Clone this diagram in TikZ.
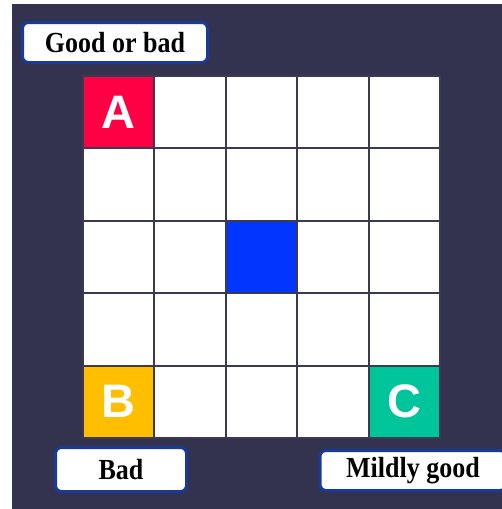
\documentclass[tikz,border=0pt]{standalone}
\usepackage{fontspec}
\setmainfont{Liberation Serif}
\newfontfamily\letterfont{Liberation Sans}
\definecolor{bgnavy}{HTML}{33334F}
\definecolor{gridline}{HTML}{3A3A52}
\definecolor{cellred}{HTML}{FF0044}
\definecolor{cellyellow}{HTML}{FFBF00}
\definecolor{cellgreen}{HTML}{00C49A}
\definecolor{cellblue}{HTML}{0036FF}
\definecolor{boxblue}{HTML}{1A3A9A}
\newcommand{\tallertext}[1]{\scalebox{1}[1.12]{#1}}
\tikzset{
  cell/.style={draw=gridline, line width=2pt, fill=white, minimum width=71.4pt, minimum height=72.4pt, inner sep=0pt, outer sep=0pt},
  letter/.style={text=white, font=\letterfont\fontsize{47}{47}\selectfont\bfseries},
  labelbox/.style={draw=boxblue, line width=3pt, fill=white, rounded corners=6pt, inner sep=0pt, font=\fontsize{26}{26}\selectfont\bfseries, text=black}
}
\begin{document}
\begin{tikzpicture}[x=1pt,y=-1pt]
\useasboundingbox (0,0) rectangle (502,509);
\fill[white] (0,0) rectangle (502,509);
\fill[bgnavy] (12,4) rectangle (502,509);
\foreach \i in {0,...,4}{
  \foreach \j in {0,...,4}{
    \node[cell] (c\i\j) at ({83+71.4*(\i+0.5)},{76+72.4*(\j+0.5)}) {};
  }
}
\node[cell, fill=cellred, letter] (cA) at (c00) {A};
\node[cell, fill=cellyellow, letter] (cB) at (c04) {B};
\node[cell, fill=cellgreen, letter] (cC) at (c44) {C};
\node[cell, fill=cellblue] (cmid) at (c22) {};
\node[labelbox, minimum width=185pt, minimum height=40pt] (lgood) at (115,42.5) {\tallertext{Good or bad}};
\node[labelbox, minimum width=131pt, minimum height=44pt] (lbad) at (121,469.5) {\tallertext{Bad}};
\begin{scope}
\clip (0,0) rectangle (502,509);
\node[labelbox, minimum width=186pt, minimum height=40pt] (lmild) at (413,470.5) {\tallertext{Mildly good}};
\end{scope}
\end{tikzpicture}
\end{document}
